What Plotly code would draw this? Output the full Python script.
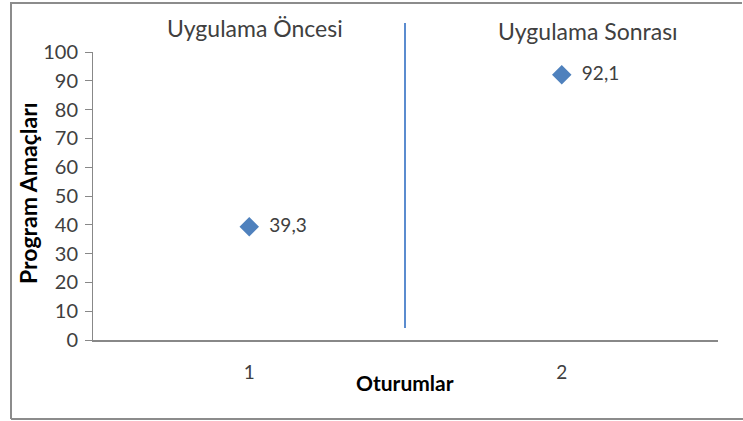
import plotly.graph_objects as go

sessions = [1, 2]
values = [39.3, 92.1]
labels = ["39,3", "92,1"]
phase_titles = ["Uygulama Öncesi", "Uygulama Sonrası"]
y_ticks = list(range(0, 101, 10))

FONT = "Lato, 'Open Sans', sans-serif"
TXT = "#404040"
AX = "#888888"
BLUE = "#4F81BD"

fig = go.Figure()
fig.add_trace(go.Scatter(
    x=sessions, y=values, mode="markers+text",
    marker=dict(symbol="diamond", size=15, color=BLUE),
    text=["  " + t for t in labels], textposition="middle right",
    textfont=dict(family=FONT, size=19, color=TXT),
    cliponaxis=False, showlegend=False, hoverinfo="skip",
))

PW, PH = 625, 288  # plot area px
def px(xp):
    return (xp - 93) / PW
def py(yp):
    return (340 - yp) / PH

# divider line between phases
fig.add_shape(type="line", xref="paper", yref="paper", x0=px(405), x1=px(405), y0=py(328), y1=py(23),
              line=dict(color="#5B8CCF", width=2))

# phase titles
fig.add_annotation(x=px(255), y=py(28), xref="paper", yref="paper", text=phase_titles[0], showarrow=False,
                   font=dict(family=FONT, size=23, color=TXT), xanchor="center", yanchor="middle")
fig.add_annotation(x=px(588), y=py(31), xref="paper", yref="paper", text=phase_titles[1], showarrow=False,
                   font=dict(family=FONT, size=23, color=TXT), xanchor="center", yanchor="middle")

# axis titles
fig.add_annotation(x=px(405), y=py(382), xref="paper", yref="paper", text="<b>Oturumlar</b>", showarrow=False,
                   font=dict(family=FONT, size=21, color="#000000"), xanchor="center", yanchor="middle")
fig.add_annotation(x=px(28), y=py(193), xref="paper", yref="paper", text="<b>Program Amaçları</b>", showarrow=False,
                   textangle=-90, font=dict(family=FONT, size=23, color="#000000"),
                   xanchor="center", yanchor="middle")

# outer chart border (left, top, bottom)
for x0, y0, x1, y1 in [(11, 2, 11, 419), (11, 3, 742, 3), (11, 419, 760, 419)]:
    fig.add_shape(type="line", xref="paper", yref="paper", x0=px(x0), y0=py(y0), x1=px(x1), y1=py(y1),
                  line=dict(color="#8c8c8c", width=2), layer="above")

fig.update_xaxes(range=[0.5, 2.5], tickvals=sessions, ticktext=[str(s) for s in sessions],
                 showline=True, linecolor=AX, linewidth=2, ticks="", showgrid=False, zeroline=False,
                 tickfont=dict(family=FONT, size=19, color=TXT), ticklabelstandoff=14)
fig.update_yaxes(range=[0, 100], tickvals=y_ticks, showline=True, linecolor=AX, linewidth=1,
                 ticks="outside", ticklen=7, tickcolor=AX, showgrid=False, zeroline=False,
                 tickfont=dict(family=FONT, size=20, color=TXT), ticklabelstandoff=3)

fig.update_layout(width=743, height=421, margin=dict(l=93, r=25, t=52, b=81, autoexpand=False),
                  plot_bgcolor="white", paper_bgcolor="white")

fig.write_html("out.html", config={"displayModeBar": False},
               post_script="document.body.style.margin='0';document.body.style.overflow='hidden';")
